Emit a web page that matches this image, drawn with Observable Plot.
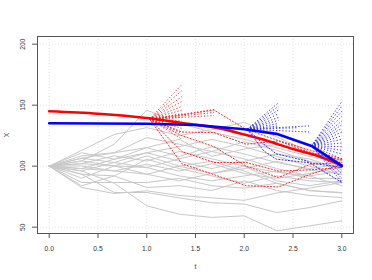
<!DOCTYPE html>
<html><head><meta charset="utf-8">
<script src="https://cdn.jsdelivr.net/npm/d3@7"></script>
<script src="https://cdn.jsdelivr.net/npm/@observablehq/plot@0.6"></script>
<style>body{margin:0;background:#fff} svg{display:block}</style>
</head><body><div id="chart"></div>
<script>
// ---- data ----
const xTicks = [0, 0.5, 1, 1.5, 2, 2.5, 3];
const yTicks = [50, 100, 150, 200];
const xLabel = "t";
const yLabel = "X";

// simulated gray paths on the time grid
const pathTimes = [0, 0.333, 0.667, 1, 1.333, 1.667, 2, 2.333, 2.667, 3];
const grayPaths = [
  [100, 104.3, 118, 146, 135, 128, 122, 115, 108, 103],
  [100, 113, 126, 131.6, 125, 130, 136, 124, 112, 104],
  [100, 108.4, 111, 123.4, 118, 112, 120, 113, 104, 99],
  [100, 111, 105.7, 115.2, 108, 116, 110, 103, 98, 101.6],
  [100, 106.5, 103, 111, 104, 98, 104, 110, 106, 97],
  [100, 102.2, 108.4, 104.3, 112, 106, 100, 95, 92, 96],
  [100, 104.3, 100.2, 108.4, 100, 94, 98, 104, 97, 93.4],
  [100, 100.2, 96.1, 101.6, 96, 102, 94, 90, 94, 98.9],
  [100, 96.1, 103, 98.9, 92, 88, 92, 96, 90, 90],
  [100, 93.4, 92, 105.7, 98, 92, 86, 92, 88, 86.6],
  [100, 90.2, 100.2, 93.4, 88, 94, 100, 88, 84, 88],
  [100, 86.6, 86.6, 86.6, 90, 84, 82, 86, 80, 78.4],
  [100, 83.9, 92, 82.5, 84, 80, 88, 80, 76, 74.3],
  [100, 82.5, 77.6, 79.8, 76, 74, 72, 78, 82, 86.6],
  [100, 96.1, 86, 67.5, 60.6, 58, 59.3, 47, 51, 55.2],
  [100, 93.4, 78.4, 78.4, 74, 70, 68.9, 62, 66, 71.6],
  [100, 98, 105.7, 111, 116, 122, 116, 108, 100, 93],
  [100, 102, 100.2, 98.9, 106, 112, 106, 98, 92, 84],
  [100, 106.5, 111, 115.2, 122, 108, 114, 118, 110, 105],
  [100, 98, 96.1, 93.4, 100, 104, 96, 86, 80, 78]
];

// thick curves
const redT = [0, 0.5, 1, 1.4, 1.75, 2, 2.25, 2.5, 2.75, 3];
const redX = [145, 143, 139.5, 135, 131, 126, 120.5, 114, 108.5, 100.5];
const blueT = [0, 0.5, 1, 1.5, 2, 2.33, 2.69, 3];
const blueX = [135.2, 135, 134.8, 133.8, 130.3, 126.5, 116.6, 100.3];

// red fan at t ~ 1
const redFanOrigin = {t: 1.03, x: 138.5};
const redFanShortT = 1.36;
const redFanShortEnds = [167, 162, 157, 153, 149, 146, 143, 140, 137, 134, 131, 127, 122];
const redFanMidT = 1.69;
const redFanMidEnds = [146.5, 144, 141.5];
const redPathTimes = [1.03, 1.36, 1.69, 2.02, 2.35, 2.68, 3.0];
const redPaths = [
  [138.5, 102, 93, 84, 83, 93.4, 101.6],
  [138.5, 125, 116, 100, 90.7, 101.6, 103],
  [138.5, 128, 127.5, 118, 120.7, 111, 105],
  [138.5, 112, 103, 103, 96, 97, 99],
  [138.5, 142, 146, 130, 121, 113, 106]
];

// blue fan at t ~ 2
const blueFan1Origin = {t: 2.03, x: 130.3};
const blueFan1EndT = 2.35;
const blueFan1Ends = [152, 149, 146, 143, 140, 137.5, 135, 133];
const blueFan1LongT = [2.67, 2.55, 2.67];
const blueFan1LongEnds = [133, 131.5, 128];
const bluePathTimes = [2.03, 2.2, 2.33, 2.64, 3.0];
const bluePaths = [
  [130.3, 112.5, 105.7, 103, 99],
  [130.3, 118, 110, 104.3, 86.6]
];

// blue fan at t ~ 2.7
const blueFan2Origin = {t: 2.69, x: 116.6};
const blueFan2EndT = 3.0;
const blueFan2Ends = [153, 149, 145, 141, 137, 134, 131, 128, 125, 122, 119, 116, 113, 110, 106, 102, 98, 94, 90, 87];

// ---- build tables ----
const grayData = grayPaths.flatMap((p, i) => p.map((v, k) => ({id: i, t: pathTimes[k], x: v})));
const redLine = redT.map((t, i) => ({t, x: redX[i]}));
const blueLine = blueT.map((t, i) => ({t, x: blueX[i]}));
const fanSegs = (o, t2, ends) => ends.map(v => ({t1: o.t, x1: o.x, t2, x2: v}));
const redSegs = [...fanSegs(redFanOrigin, redFanShortT, redFanShortEnds), ...fanSegs(redFanOrigin, redFanMidT, redFanMidEnds)];
const redPathData = redPaths.flatMap((p, i) => p.map((v, k) => ({id: i, t: redPathTimes[k], x: v})));
const blueSegs = [
  ...fanSegs(blueFan1Origin, blueFan1EndT, blueFan1Ends),
  ...blueFan1LongEnds.map((v, i) => ({t1: blueFan1Origin.t, x1: blueFan1Origin.x, t2: blueFan1LongT[i], x2: v})),
  ...fanSegs(blueFan2Origin, blueFan2EndT, blueFan2Ends)
];
const bluePathData = bluePaths.flatMap((p, i) => p.map((v, k) => ({id: i, t: bluePathTimes[k], x: v})));

const dot = "1.2,2";
const chart = Plot.plot({
  width: 372, height: 280,
  marginLeft: 37, marginRight: 19, marginTop: 36, marginBottom: 47,
  x: {domain: [-0.12, 3.12]},
  y: {domain: [44.8, 206.3]},
  style: {fontFamily: "'Liberation Sans', Arial, sans-serif", fontSize: "6.7px", color: "#333", background: "#fff"},
  marks: [
    Plot.gridX(xTicks, {stroke: "#e4e4e4", strokeOpacity: 1, strokeDasharray: "1,2"}),
    Plot.gridY(yTicks, {stroke: "#e4e4e4", strokeOpacity: 1, strokeDasharray: "1,2"}),
    Plot.line(grayData, {x: "t", y: "x", z: "id", stroke: "#c8c8c8", strokeWidth: 1}),
    Plot.link(redSegs, {x1: "t1", y1: "x1", x2: "t2", y2: "x2", stroke: "#ff2a2a", strokeWidth: 1, strokeDasharray: dot}),
    Plot.line(redPathData, {x: "t", y: "x", z: "id", stroke: "#ff2a2a", strokeWidth: 1, strokeDasharray: dot}),
    Plot.line(redLine, {x: "t", y: "x", stroke: "#ff0000", strokeWidth: 2.6, curve: "monotone-x"}),
    Plot.link(blueSegs, {x1: "t1", y1: "x1", x2: "t2", y2: "x2", stroke: "#2a2aff", strokeWidth: 1, strokeDasharray: dot}),
    Plot.line(bluePathData, {x: "t", y: "x", z: "id", stroke: "#2a2aff", strokeWidth: 1, strokeDasharray: dot}),
    Plot.line(blueLine, {x: "t", y: "x", stroke: "#0000ff", strokeWidth: 2.6}),
    Plot.frame({stroke: "#555"}),
    Plot.axisX(xTicks, {tickSize: 5, tickPadding: 7.5, tickFormat: d3.format(".1f"), label: null, stroke: "#555"}),
    Plot.axisY(yTicks, {tickSize: 5, tickFormat: () => "", label: null, stroke: "#555"}),
    Plot.text(yTicks, {y: d => d, text: d => String(d), frameAnchor: "left", dx: -14.3, rotate: -90, textAnchor: "middle", lineAnchor: "middle", fill: "#333"}),
    Plot.text([xLabel], {text: d => d, frameAnchor: "bottom", dy: 33, lineAnchor: "middle", fill: "#333"}),
    Plot.text([yLabel], {text: d => d, frameAnchor: "left", dx: -31, rotate: -90, textAnchor: "middle", lineAnchor: "middle", fill: "#333"})
  ]
});
document.getElementById("chart").appendChild(chart);
</script></body></html>
